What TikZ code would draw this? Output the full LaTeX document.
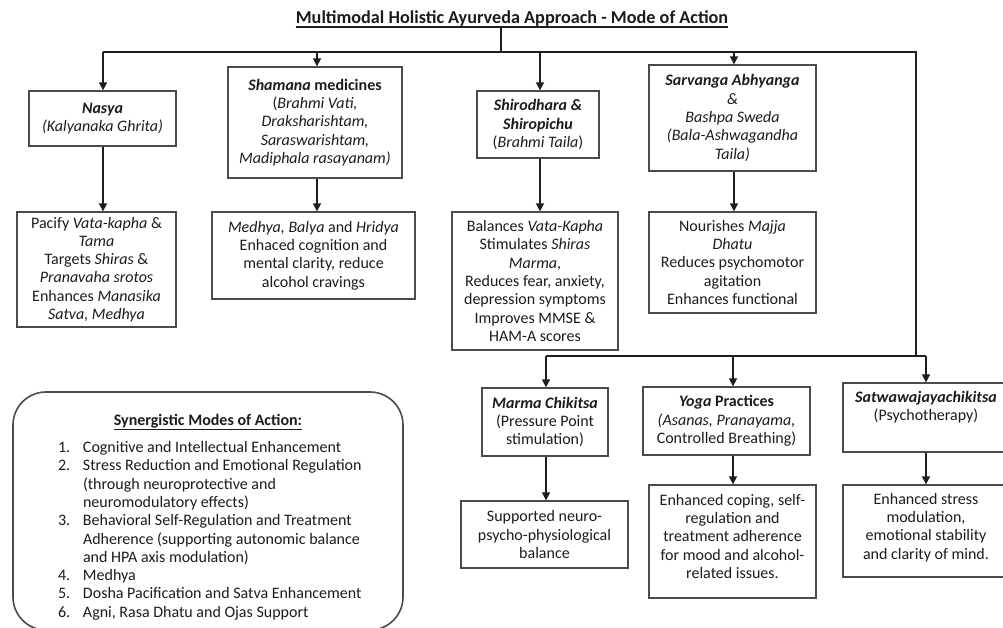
\documentclass[tikz,border=0pt]{standalone}
\usepackage{fontspec}
\setmainfont{Carlito}
\usetikzlibrary{arrows.meta}
\definecolor{txt}{RGB}{28,28,28}
\definecolor{brd}{RGB}{75,75,75}
\definecolor{ln}{RGB}{30,30,30}
\newcommand{\bt}[4][0]{\parbox[c][#3pt][c]{#2pt}{\centering #4\par\vspace*{#1pt}}}
\newcommand{\li}[2]{\hspace*{45pt}\makebox[25pt][l]{#1}#2\par}
\newcommand{\lc}[1]{\hspace*{70pt}#1\par}
\begin{document}
\begin{tikzpicture}[x=1pt,y=-1pt,
  font=\fontsize{16}{18.3}\selectfont, text=txt,
  box/.style={draw=brd, line width=1.3pt, inner sep=0pt, fill=white},
  conn/.style={draw=ln, line width=1.6pt},
  arr/.style={conn, -{Triangle[length=8pt,width=8pt]}}]
\clip (0,0) rectangle (1003,628);
\fill[white] (0,0) rectangle (1003,628);

\node[inner sep=0pt, anchor=base, font=\fontsize{18.2}{20}\selectfont\bfseries] (title) at (512,24) {Multimodal Holistic Ayurveda Approach - Mode of Action};
\draw[ln, line width=1.4pt] (title.base west) ++(0,3) -- ([yshift=-3pt]title.base east);

% top row
\node[box] (nasya) at (102.5,118.5) {\bt{147}{55}{\textbf{\textit{Nasya}}\\\textit{(Kalyanaka Ghrita)}}};
\node[box] (shamana) at (315,122.5) {\bt{174}{111}{\textbf{\textit{Shamana} medicines}\\(\textit{Brahmi Vati,}\\\textit{Draksharishtam,}\\\textit{Saraswarishtam,}\\\textit{Madiphala rasayanam)}}};
\node[box] (shiro) at (538,124.5) {\bt{122}{67}{\textbf{\textit{Shirodhara \&}}\\\textbf{\textit{Shiropichu}}\\(\textit{Brahmi Taila})}};
\node[box] (sarv) at (732.5,118) {\bt{167}{106}{\textbf{\textit{Sarvanga Abhyanga}}\\\textit{\&}\\\textit{Bashpa Sweda}\\\textit{(Bala-Ashwagandha}\\\textit{Taila)}}};

% second row
\node[box] (nasyaR) at (96.5,269.5) {\bt{159}{115}{Pacify \textit{Vata-kapha} \&\\\textit{Tama}\\Targets \textit{Shiras} \&\\\textit{Pranavaha srotos}\\Enhances \textit{Manasika}\\\textit{Satva, Medhya}}};
\node[box] (shamR) at (313.5,255.5) {\bt{203}{87}{\textit{Medhya, Balya} and \textit{Hridya}\\Enhaced cognition and\\mental clarity, reduce\\alcohol cravings}};
\node[box] (shiroR) at (535,281) {\bt{166}{138}{Balances \textit{Vata-Kapha}\\Stimulates \textit{Shiras}\\\textit{Marma},\\Reduces fear, anxiety,\\depression symptoms\\Improves MMSE \&\\HAM-A scores}};
\node[box] (sarvR) at (732.5,262.5) {\bt{167}{101}{Nourishes \textit{Majja}\\\textit{Dhatu}\\Reduces psychomotor\\agitation\\Enhances functional}};

% third row
\node[box] (marma) at (545,422) {\bt{126}{68}{\textbf{\textit{Marma Chikitsa}}\\(Pressure Point\\stimulation)}};
\node[box] (yoga) at (726.5,421) {\bt{167}{68}{\textbf{\textit{Yoga} Practices}\\\textit{(Asanas, Pranayama,}\\Controlled Breathing)}};
\node[box] (satwa) at (926,417.5) {\bt[20]{166}{69}{\textbf{\textit{Satwawajayachikitsa}}\\(Psychotherapy)}};

% fourth row
\node[box] (marmaR) at (544.5,534.5) {\bt{167}{67}{Supported neuro-\\psycho-physiological\\balance}};
\node[box] (yogaR) at (732.5,541.5) {\bt[10]{167}{113}{Enhanced coping, self-\\regulation and\\treatment adherence\\for mood and alcohol-\\related issues.}};
\node[box] (satwaR) at (926,531) {\bt[7]{166}{92}{Enhanced stress\\modulation,\\emotional stability\\and clarity of mind.}};

% synergistic box
\node[box, rounded corners=33pt, line width=1.6pt] (syn) at (208,511) {\parbox[c][238pt][t]{390pt}{\vspace*{22pt}\centering\textbf{\underline{Synergistic Modes of Action:}}\par\vspace{9pt}\raggedright
\li{1.}{Cognitive and Intellectual Enhancement}
\li{2.}{Stress Reduction and Emotional Regulation}
\lc{(through neuroprotective and}
\lc{neuromodulatory effects)}
\li{3.}{Behavioral Self-Regulation and Treatment}
\lc{Adherence (supporting autonomic balance}
\lc{and HPA axis modulation)}
\li{4.}{Medhya}
\li{5.}{Dosha Pacification and Satva Enhancement}
\li{6.}{Agni, Rasa Dhatu and Ojas Support}}};

% junctions
\coordinate (t0) at (501,52);
\coordinate (b1) at (103,52);
\coordinate (b2) at (317,52);
\coordinate (b3) at (540,52);
\coordinate (b4) at (734,52);
\coordinate (b5) at (916,52);
\coordinate (c0) at (916,356);
\coordinate (c1) at (546,356);
\coordinate (c2) at (733,356);
\coordinate (c3) at (926,356);

\draw[conn] ([yshift=-4pt]title.base -| t0) -- (t0);
\draw[conn] (b1) -- (b5) -- (c0);
\draw[conn] (c1) -- (c3);
\draw[arr] (b1) -- (nasya.north -| b1);
\draw[arr] (b2) -- (shamana.north -| b2);
\draw[arr] (b3) -- (shiro.north -| b3);
\draw[arr] (b4) -- (sarv.north -| b4);
\draw[arr] (nasya.south -| b1) -- (nasyaR.north -| b1);
\draw[arr] (shamana.south -| b2) -- (shamR.north -| b2);
\draw[arr] (shiro.south -| b3) -- (shiroR.north -| b3);
\draw[arr] (sarv.south -| b4) -- (sarvR.north -| b4);
\draw[arr] (c1) -- (marma.north -| c1);
\draw[arr] (c2) -- (yoga.north -| c2);
\draw[arr] (c3) -- (satwa.north -| c3);
\draw[arr] (marma.south -| c1) -- (marmaR.north -| c1);
\draw[arr] (yoga.south -| c2) -- (yogaR.north -| c2);
\draw[arr] (satwa.south -| c3) -- (satwaR.north -| c3);
\end{tikzpicture}
\end{document}
